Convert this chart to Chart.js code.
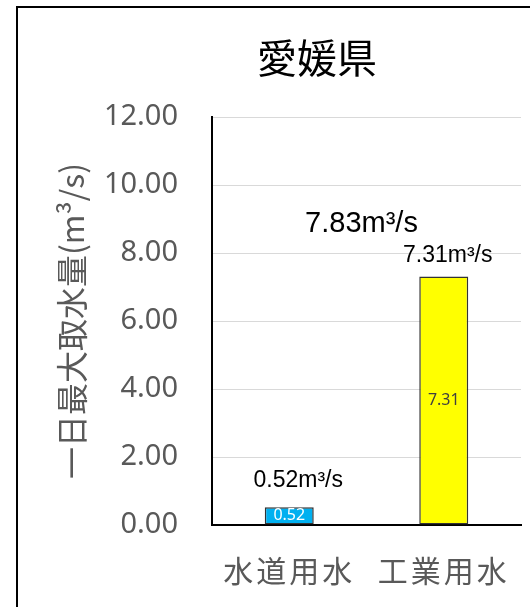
<!DOCTYPE html>
<html>
<head>
<meta charset="utf-8">
<script src="https://cdn.jsdelivr.net/npm/chart.js@4/dist/chart.umd.min.js"></script>
<style>
  body { margin: 0; background: #fff; }
  canvas { display: block; }
</style>
</head>
<body>
<canvas id="graph" width="530" height="607"></canvas>
<script>
// data
const chartTitle = '愛媛県';
const categories = ['水道用水', '工業用水'];
const intakeValues = [0.52, 7.31];
const barColors = ['#00B0F0', '#FFFF00'];
const insideLabelColors = ['#FFFFFF', '#404040'];
const yTitle = '一日最大取水量(m³/s)';
const unit = 'm³/s';

const cjkFont = '"Noto Sans CJK JP", "Noto Sans", sans-serif';

// category axis that spreads the Japanese labels a little, like the original
class SpacedCategoryScale extends Chart.CategoryScale {
    drawLabels(area) {
        this.ctx.save();
        this.ctx.letterSpacing = '3px';
        super.drawLabels(area);
        this.ctx.restore();
    }
}
SpacedCategoryScale.id = 'spacedCategory';
SpacedCategoryScale.defaults = Chart.CategoryScale.defaults;
Chart.register(SpacedCategoryScale);

// frame, title and the value labels
const decorations = {
    id: 'decorations',
    beforeDraw(chart) {
        const ctx = chart.ctx;
        ctx.save();
        ctx.fillStyle = '#fff';
        ctx.fillRect(0, 0, chart.width, chart.height);
        ctx.strokeStyle = '#000';
        ctx.lineWidth = 2;
        ctx.strokeRect(17, 7, chart.width + 20, chart.height + 20);
        ctx.fillStyle = '#000';
        ctx.font = '40px ' + cjkFont;
        ctx.textAlign = 'center';
        ctx.textBaseline = 'middle';
        ctx.fillText(chartTitle, 317, 58);
        ctx.restore();
    },
    afterDatasetsDraw(chart) {
        const ctx = chart.ctx;
        const meta = chart.getDatasetMeta(0);
        const yScale = chart.scales.y;
        ctx.save();
        ctx.textAlign = 'center';
        ctx.textBaseline = 'middle';
        meta.data.forEach(function(bar, i) {
            const v = intakeValues[i];
            // value inside the bar
            ctx.font = '16px "Noto Sans", sans-serif';
            ctx.fillStyle = insideLabelColors[i];
            ctx.fillText(v.toFixed(2), bar.x, (bar.y + bar.base) / 2);
            // value with unit above the bar
            ctx.font = '23px "Liberation Sans", Arial, sans-serif';
            ctx.fillStyle = '#000';
            ctx.fillText(v.toFixed(2) + unit, bar.x + (i === 0 ? 9 : 4), bar.y - (i === 0 ? 27 : 21));
        });
        // total
        const total = intakeValues.reduce((a, b) => a + b, 0);
        ctx.font = '29px "Liberation Sans", Arial, sans-serif';
        ctx.fillStyle = '#000';
        const area = chart.chartArea;
        ctx.fillText(total.toFixed(2) + unit, (area.left + area.right) / 2 - 5, yScale.getPixelForValue(8.85));
        ctx.restore();
    }
};

var ctx = document.getElementById('graph').getContext('2d');
var myChart = new Chart(ctx, {
    type: 'bar',
    data: {
        labels: categories,
        datasets: [{
            label: '取水量',
            data: intakeValues,
            backgroundColor: barColors,
            borderColor: '#333333',
            borderWidth: 1.5,
            borderSkipped: false,
            categoryPercentage: 1,
            barPercentage: 0.317
        }]
    },
    options: {
        responsive: false,
        animation: false,
        layout: {
            padding: { top: 117, right: 9, bottom: 0, left: 0 }
        },
        plugins: {
            legend: { display: false },
            tooltip: { enabled: false },
            title: { display: false }
        },
        scales: {
            x: {
                type: 'spacedCategory',
                afterFit: function(scale) { scale.height = 82; },
                grid: { display: false, drawTicks: false },
                border: { display: true, color: '#000', width: 2 },
                ticks: {
                    color: '#595959',
                    font: { family: cjkFont, size: 30, lineHeight: '84px' },
                    padding: 4,
                    maxRotation: 0
                }
            },
            y: {
                min: 0,
                max: 12,
                afterFit: function(scale) { scale.width = 212; },
                grid: { color: '#D9D9D9', lineWidth: 1, drawTicks: false },
                border: { display: true, color: '#000', width: 2 },
                ticks: {
                    stepSize: 2,
                    color: '#595959',
                    font: { family: '"Noto Sans", sans-serif', size: 29 },
                    padding: 34,
                    callback: function(v) { return v.toFixed(2); }
                },
                title: {
                    display: true,
                    text: yTitle,
                    color: '#595959',
                    font: { family: cjkFont, size: 32 },
                    padding: { top: 53, bottom: 0 }
                }
            }
        }
    },
    plugins: [decorations]
});
</script>
</body>
</html>
